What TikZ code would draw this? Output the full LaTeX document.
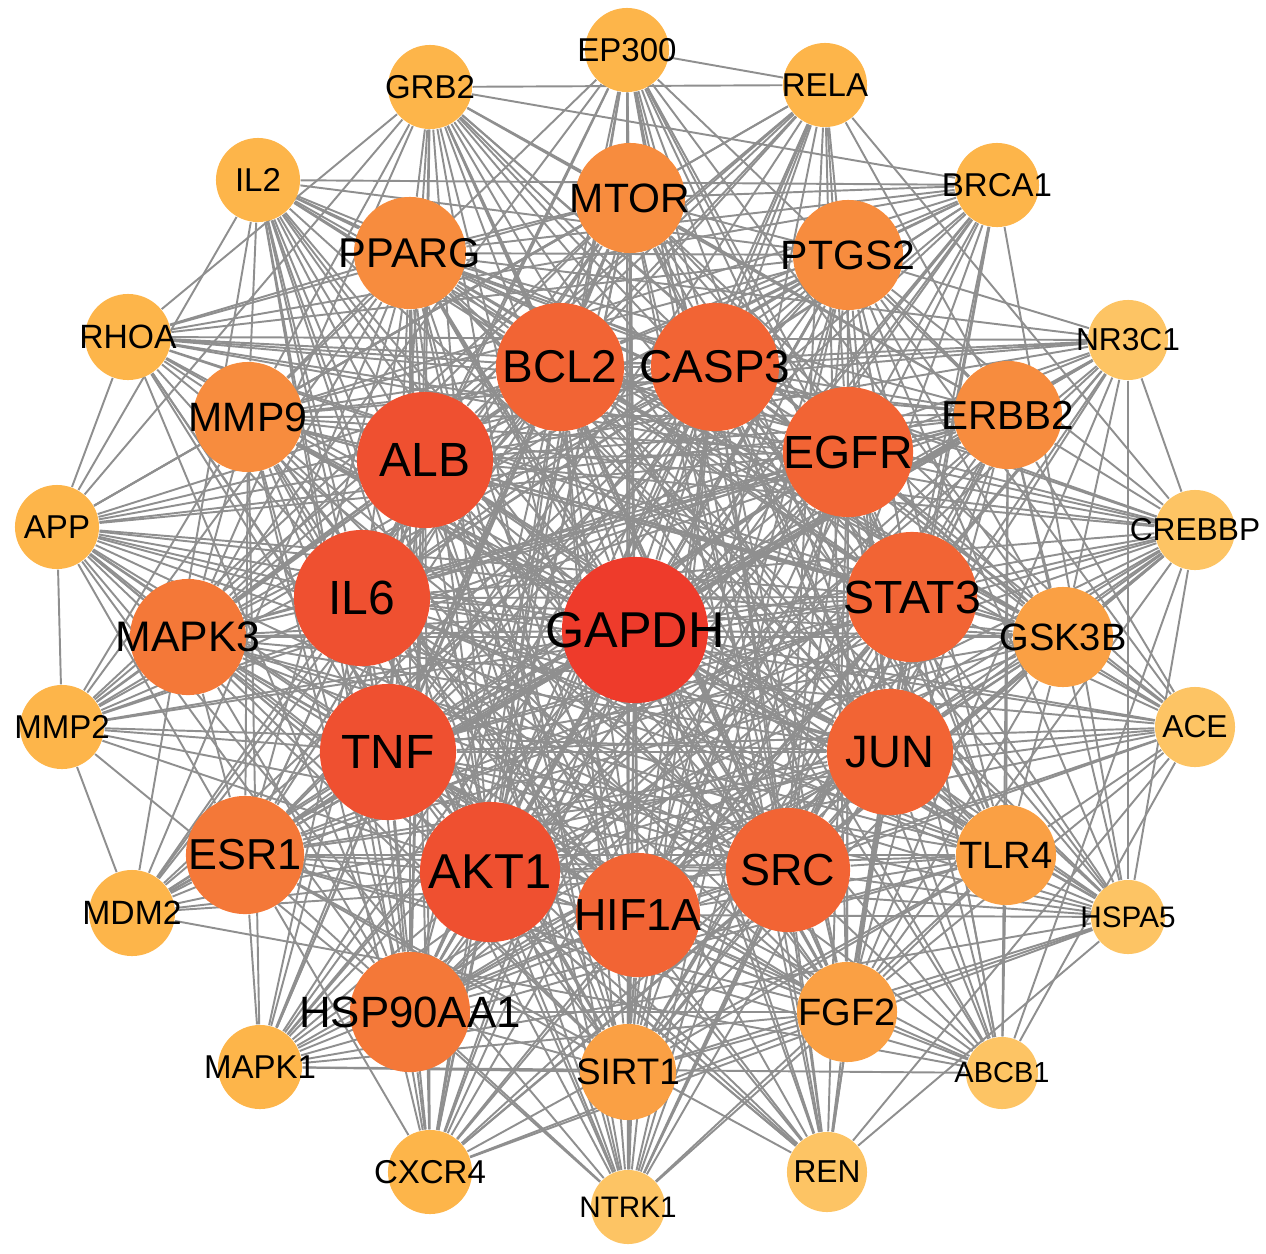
\documentclass[tikz,border=0pt]{standalone}
\usepackage{fontspec}
\setmainfont{Liberation Sans}
\usetikzlibrary{backgrounds}
\definecolor{hubred}{RGB}{238,59,43}
\definecolor{corered}{RGB}{239,80,48}
\definecolor{coreorange}{RGB}{242,100,52}
\definecolor{middark}{RGB}{244,120,56}
\definecolor{midorange}{RGB}{247,140,62}
\definecolor{midlight}{RGB}{250,160,68}
\definecolor{outer}{RGB}{253,181,74}
\definecolor{outerlight}{RGB}{253,196,100}
\tikzset{gene/.style={circle, draw=none, inner sep=0pt},
         link/.style={draw=black!44, line width=0.55pt}}
\def\gene[#1](#2)(#3:#4){\pgfmathsetmacro\fsize{0.196*#4*(1.33-0.0045*#4)}\node[gene, fill=#1, minimum size={0.02cm*#4}, label={[font=\fontsize{\fsize}{\fsize}\selectfont, inner sep=0pt]center:#3}] (#3) at (#2) {};}
\def\genes{GAPDH/0, AKT1/1, TNF/1, ALB/1, IL6/1, EGFR/1, STAT3/1, BCL2/1, CASP3/1, JUN/1, SRC/1, HIF1A/1,
  HSP90AA1/2, ESR1/2, MAPK3/2, MMP9/2, PPARG/2, MTOR/2, PTGS2/2, ERBB2/2, GSK3B/2, TLR4/2, FGF2/2, SIRT1/2,
  EP300/3, RELA/3, BRCA1/3, NR3C1/3, CREBBP/3, ACE/3, HSPA5/3, ABCB1/3, REN/3, NTRK1/3, CXCR4/3, MAPK1/3,
  MDM2/3, MMP2/3, APP/3, RHOA/3, IL2/3, GRB2/3}

\begin{document}
\begin{tikzpicture}[x=0.01cm, y=-0.01cm]
		\useasboundingbox (0,0) rectangle (1266,1254);
		
		% hub
		\gene[hubred](635,630)(GAPDH:73)
		
		% inner ring
		\gene[corered](490,872)(AKT1:70)
		\gene[corered](388,752)(TNF:68)
		\gene[corered](425,460)(ALB:68)
		\gene[corered](362,598)(IL6:68)
		\gene[coreorange](848,452)(EGFR:65)
		\gene[coreorange](912,597)(STAT3:65)
		\gene[coreorange](560,367)(BCL2:64)
		\gene[coreorange](715,367)(CASP3:64)
		\gene[coreorange](890,752)(JUN:63)
		\gene[coreorange](788,870)(SRC:62)
		\gene[coreorange](638,915)(HIF1A:62)
		
		% middle ring
		\gene[middark](410,1012)(HSP90AA1:60)
		\gene[middark](245,855)(ESR1:59)
		\gene[middark](188,637)(MAPK3:58)
		\gene[midorange](248,417)(MMP9:55)
		\gene[midorange](410,253)(PPARG:56)
		\gene[midorange](630,198)(MTOR:55)
		\gene[midorange](848,255)(PTGS2:55)
		\gene[midorange](1008,415)(ERBB2:54)
		\gene[midlight](1063,637)(GSK3B:50)
		\gene[midlight](1006,855)(TLR4:50)
		\gene[midlight](847,1012)(FGF2:50)
		\gene[midlight](628,1072)(SIRT1:48)
		
		% outer ring
		\gene[outer](627,50)(EP300:42)
		\gene[outer](825,85)(RELA:42)
		\gene[outer](997,185)(BRCA1:42)
		\gene[outerlight](1128,340)(NR3C1:40)
		\gene[outerlight](1195,530)(CREBBP:40)
		\gene[outerlight](1195,727)(ACE:40)
		\gene[outerlight](1128,917)(HSPA5:37)
		\gene[outerlight](1002,1073)(ABCB1:36)
		\gene[outerlight](827,1172)(REN:40)
		\gene[outerlight](628,1207)(NTRK1:37)
		\gene[outer](430,1172)(CXCR4:42)
		\gene[outer](260,1067)(MAPK1:42)
		\gene[outer](132,913)(MDM2:43)
		\gene[outer](62,727)(MMP2:42)
		\gene[outer](57,527)(APP:42)
		\gene[outer](128,337)(RHOA:43)
		\gene[outer](258,180)(IL2:42)
		\gene[outer](430,87)(GRB2:42)
		
		% interactions
		\begin{scope}[on background layer]
		\pgfmathsetseed{2024}
		\foreach \a/\ta [count=\i] in \genes {
			\foreach \b/\tb [count=\j] in \genes {
				\ifnum\i<\j
					\pgfmathrandominteger{\r}{0}{99}
					\pgfmathtruncatemacro\thr{{100,100,100,100,90,65,30}[\ta+\tb]}
					\ifnum\r<\thr \draw[link] (\a) -- (\b); \fi
				\fi
			}
		}
		\end{scope}
		
	\end{tikzpicture}
\end{document}
